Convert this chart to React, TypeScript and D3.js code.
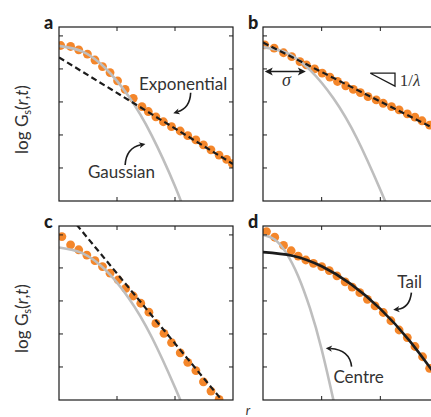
import React from "react";
import * as d3 from "d3";

// ---------- DATA ----------
const xTicks = [1, 2];
const yTicks = [1, 2, 3, 4, 5];

// panel a
const aDotsR = [0.03, 0.2, 0.34, 0.49, 0.62, 0.75, 0.88, 1.01, 1.14, 1.28, 1.43, 1.54, 1.67, 1.8, 1.94, 2.09, 2.22, 2.36, 2.49, 2.62, 2.76, 2.89, 2.99];
const aDotsY = [4.71, 4.68, 4.58, 4.45, 4.27, 4.07, 3.89, 3.64, 3.38, 3.11, 2.86, 2.71, 2.55, 2.4, 2.25, 2.12, 1.98, 1.85, 1.7, 1.55, 1.39, 1.26, 1.13];
const aGaussR = [0, 0.4, 0.8, 1.2, 1.6, 2.0, 2.15];
const aGaussY = [4.7, 4.53, 4.02, 3.17, 1.98, 0.45, -0.25];
const aExpR = [0, 3];
const aExpY = [4.35, 1.12];

// panel b
const bDotsR = [0.03, 0.19, 0.35, 0.49, 0.63, 0.74, 0.88, 1.01, 1.14, 1.27, 1.41, 1.54, 1.66, 1.79, 1.93, 2.05, 2.19, 2.32, 2.46, 2.59, 2.71, 2.84, 2.98];
const bDotsY = [4.73, 4.63, 4.49, 4.37, 4.22, 4.12, 4.0, 3.87, 3.75, 3.62, 3.49, 3.38, 3.28, 3.16, 3.06, 2.96, 2.86, 2.76, 2.64, 2.54, 2.43, 2.3, 2.18];
const bGaussR = [0, 0.4, 0.8, 1.2, 1.6, 2.0, 2.15];
const bGaussY = [4.66, 4.49, 3.97, 3.11, 1.9, 0.34, -0.3];
const bExpR = [0, 3];
const bExpY = [4.8, 2.12];

// panel c
const cDotsR = [0.05, 0.2, 0.34, 0.48, 0.62, 0.75, 0.88, 1.02, 1.15, 1.28, 1.41, 1.55, 1.67, 1.81, 1.94, 2.09, 2.22, 2.36, 2.49, 2.62, 2.76];
const cDotsY = [4.95, 4.7, 4.55, 4.39, 4.22, 4.04, 3.84, 3.64, 3.38, 3.15, 2.93, 2.66, 2.32, 2.02, 1.74, 1.43, 1.14, 0.89, 0.55, 0.27, 0.02];
const cGaussR = [0, 0.4, 0.8, 1.2, 1.6, 2.0, 2.15];
const cGaussY = [4.62, 4.45, 3.94, 3.09, 1.9, 0.38, -0.25];
const cExpR = [0.2, 2.9];
const cExpY = [5.53, -0.2];

// panel d
const dDotsR = [0.06, 0.2, 0.35, 0.48, 0.6, 0.73, 0.86, 1.0, 1.13, 1.26, 1.4, 1.52, 1.65, 1.78, 1.91, 2.05, 2.18, 2.32, 2.46, 2.59, 2.72, 2.84];
const dDotsY = [5.1, 4.93, 4.68, 4.52, 4.36, 4.24, 4.14, 4.04, 3.92, 3.76, 3.58, 3.42, 3.25, 3.05, 2.85, 2.65, 2.4, 2.12, 1.89, 1.62, 1.31, 0.96];
const dCentreR = [0, 0.2, 0.4, 0.6, 0.8, 1.0, 1.2, 1.25];
const dCentreY = [5.0, 4.86, 4.44, 3.75, 2.78, 1.53, 0.0, -0.42];
const dTailR = [0, 0.5, 1.0, 1.5, 2.0, 2.5, 3.0];
const dTailY = [4.48, 4.37, 4.05, 3.51, 2.76, 1.79, 0.61];

const X_MAX = 3;
const Y_MAX = 5.27;

const ORANGE = "#F4862A";
const GRAY = "#BEBEBE";
const INK = "#1c1c1c";
const FONT = "Lato, 'Open Sans', sans-serif";

type Pt = [number, number];
const zip = (r: number[], y: number[]): Pt[] => r.map((v, i) => [v, y[i]]);

type PanelProps = {
  id: string;
  letter: string;
  left: number;
  top: number;
  width: number;
  height: number;
  dots: Pt[];
  gray: Pt[];
  black: Pt[];
  dashed: boolean;
  children?: (x: d3.ScaleLinear<number, number>, y: d3.ScaleLinear<number, number>) => React.ReactNode;
};

function Panel({ id, letter, left, top, width, height, dots, gray, black, dashed, children }: PanelProps) {
  const x = d3.scaleLinear().domain([0, X_MAX]).range([left, left + width]);
  const y = d3.scaleLinear().domain([0, Y_MAX]).range([top + height, top]);
  const line = d3
    .line<Pt>()
    .x((d) => x(d[0]))
    .y((d) => y(d[1]))
    .curve(d3.curveNatural);
  const straight = d3
    .line<Pt>()
    .x((d) => x(d[0]))
    .y((d) => y(d[1]));
  const tl = 4;
  return (
    <g>
      <defs>
        <clipPath id={`clip-${id}`}>
          <rect x={left} y={top} width={width} height={height} />
        </clipPath>
      </defs>
      <g clipPath={`url(#clip-${id})`}>
        {dots.map((d, i) => (
          <circle key={i} cx={x(d[0])} cy={y(d[1])} r={4.4} fill={ORANGE} />
        ))}
        <path d={line(gray) || ""} fill="none" stroke={GRAY} strokeWidth={2.6} />
        {dashed ? (
          <path d={straight(black) || ""} fill="none" stroke={INK} strokeWidth={2.2} strokeDasharray="6 3.5" />
        ) : (
          <path d={line(black) || ""} fill="none" stroke={INK} strokeWidth={2.6} />
        )}
      </g>
      <rect x={left} y={top} width={width} height={height} fill="none" stroke={INK} strokeWidth={1.2} />
      {xTicks.map((t) => (
        <g key={"x" + t}>
          <line x1={x(t)} x2={x(t)} y1={top + height} y2={top + height - tl} stroke={INK} strokeWidth={1} />
          <line x1={x(t)} x2={x(t)} y1={top} y2={top + tl} stroke={INK} strokeWidth={1} />
        </g>
      ))}
      {yTicks.map((t) => (
        <g key={"y" + t}>
          <line x1={left} x2={left + tl} y1={y(t)} y2={y(t)} stroke={INK} strokeWidth={1} />
          <line x1={left + width} x2={left + width - tl} y1={y(t)} y2={y(t)} stroke={INK} strokeWidth={1} />
        </g>
      ))}
      <text x={left - 15} y={top + 1.5} fontFamily={FONT} fontWeight={900} fontSize={18} fill={INK}>
        {letter}
      </text>
      {children ? children(x, y) : null}
    </g>
  );
}

function CurvedArrow({ from, ctrl, to }: { from: Pt; ctrl: Pt; to: Pt }) {
  const ang = Math.atan2(to[1] - ctrl[1], to[0] - ctrl[0]);
  const L = 7;
  const spread = 0.45;
  const p1: Pt = [to[0] - L * Math.cos(ang - spread), to[1] - L * Math.sin(ang - spread)];
  const p2: Pt = [to[0] - L * Math.cos(ang + spread), to[1] - L * Math.sin(ang + spread)];
  const back: Pt = [to[0] - 4.5 * Math.cos(ang), to[1] - 4.5 * Math.sin(ang)];
  return (
    <g>
      <path d={`M${from[0]},${from[1]} Q${ctrl[0]},${ctrl[1]} ${back[0]},${back[1]}`} fill="none" stroke={INK} strokeWidth={1.6} />
      <path d={`M${to[0]},${to[1]} L${p1[0]},${p1[1]} L${back[0]},${back[1]} L${p2[0]},${p2[1]} Z`} fill={INK} />
    </g>
  );
}

function YLabel({ cx, cy }: { cx: number; cy: number }) {
  return (
    <text
      transform={`translate(${cx},${cy}) rotate(-90)`}
      textAnchor="middle"
      dominantBaseline="central"
      fontFamily={FONT}
      fontSize={17}
      fill="#333"
    >
      log G
      <tspan fontSize={11} dy={5}>s</tspan>
      <tspan dy={-5}>(</tspan>
      <tspan fontStyle="italic">r</tspan>
      <tspan>,</tspan>
      <tspan fontStyle="italic">t</tspan>
      <tspan>)</tspan>
    </text>
  );
}

export default function App() {
  const W = 431;
  const H = 417;
  const annFont = 17;
  return (
    <svg width={W} height={H} style={{ position: "absolute", left: 0, top: 0, background: "#fff" }}>
      <rect x={0} y={0} width={W} height={H} fill="#fff" />
      <Panel id="a" letter="a" left={59} top={27} width={174} height={174}
        dots={zip(aDotsR, aDotsY)} gray={zip(aGaussR, aGaussY)} black={zip(aExpR, aExpY)} dashed>
        {(x, y) => (
          <g>
            <text x={x(1.38)} y={y(3.36)} fontFamily={FONT} fontSize={annFont} fill="#333">Exponential</text>
            <CurvedArrow from={[x(2.27), y(3.28)]} ctrl={[x(2.26), y(2.82)]} to={[x(1.97), y(2.66)]} />
            <text x={x(0.5)} y={y(0.7)} fontFamily={FONT} fontSize={annFont} fill="#333">Gaussian</text>
            <CurvedArrow from={[x(1.14), y(1.09)]} ctrl={[x(1.16), y(1.61)]} to={[x(1.49), y(1.73)]} />
          </g>
        )}
      </Panel>
      <Panel id="b" letter="b" left={263} top={27} width={176} height={174}
        dots={zip(bDotsR, bDotsY)} gray={zip(bGaussR, bGaussY)} black={zip(bExpR, bExpY)} dashed>
        {(x, y) => (
          <g>
            <line x1={x(0.08)} x2={x(0.68)} y1={y(3.92)} y2={y(3.92)} stroke={INK} strokeWidth={1.6} />
            <path d={`M${x(0.03)},${y(3.92)} l8,-4 l-2,4 l2,4 Z`} fill={INK} />
            <path d={`M${x(0.73)},${y(3.92)} l-8,-4 l2,4 l-2,4 Z`} fill={INK} />
            <text x={x(0.4)} y={y(3.47)} textAnchor="middle" fontFamily="'Liberation Serif', 'DejaVu Serif', serif" fontStyle="italic" fontSize={18} fill="#333">σ</text>
            <path d={`M${x(1.83)},${y(3.87)} L${x(2.25)},${y(3.87)} L${x(2.25)},${y(3.48)} Z`} fill="none" stroke={INK} strokeWidth={1.3} />
            <text x={x(2.33)} y={y(3.48)} fontFamily="'Liberation Serif', 'DejaVu Serif', serif" fontSize={17} fill="#333">
              1/<tspan fontStyle="italic">λ</tspan>
            </text>
          </g>
        )}
      </Panel>
      <Panel id="c" letter="c" left={59} top={226} width={174} height={174}
        dots={zip(cDotsR, cDotsY)} gray={zip(cGaussR, cGaussY)} black={zip(cExpR, cExpY)} dashed />
      <Panel id="d" letter="d" left={263} top={226} width={176} height={174}
        dots={zip(dDotsR, dDotsY)} gray={zip(dCentreR, dCentreY)} black={zip(dTailR, dTailY)} dashed={false}>
        {(x, y) => (
          <g>
            <text x={x(2.29)} y={y(3.39)} fontFamily={FONT} fontSize={annFont} fill="#333">Tail</text>
            <CurvedArrow from={[x(2.53), y(3.25)]} ctrl={[x(2.5), y(2.79)]} to={[x(2.22), y(2.73)]} />
            <text x={x(1.2)} y={y(0.51)} fontFamily={FONT} fontSize={annFont} fill="#333">Centre</text>
            <CurvedArrow from={[x(1.51), y(1.01)]} ctrl={[x(1.48), y(1.52)]} to={[x(1.07), y(1.57)]} />
          </g>
        )}
      </Panel>
      <YLabel cx={21} cy={119.5} />
      <YLabel cx={21} cy={318.5} />
      <text x={248} y={415} textAnchor="middle" fontFamily={FONT} fontStyle="italic" fontSize={13} fill="#333">r</text>
    </svg>
  );
}
